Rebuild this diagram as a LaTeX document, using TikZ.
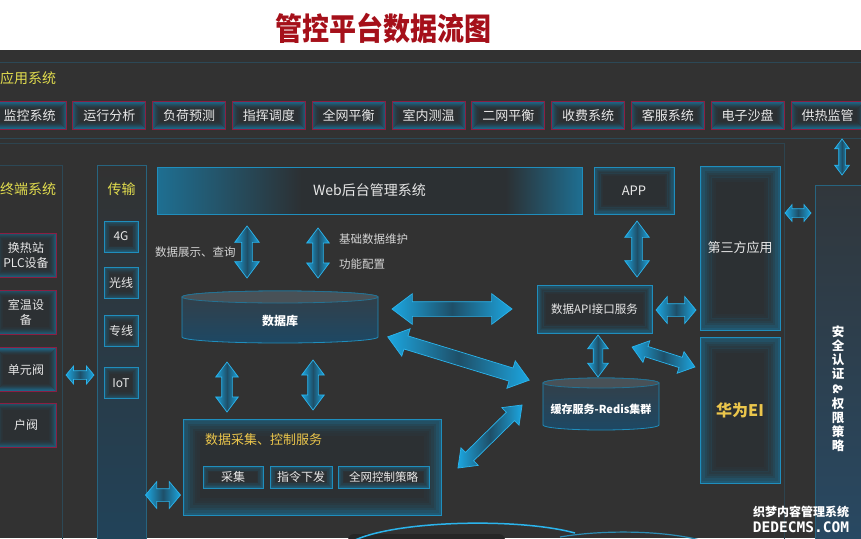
\documentclass[tikz,border=0pt]{standalone}
\usepackage{fontspec}
\usepackage{graphicx}
\setmainfont{Noto Sans CJK SC}
\newfontfamily\wmmono{DejaVu Sans Mono}
\usetikzlibrary{shapes.arrows,calc}

\definecolor{bg}{HTML}{323232}
\definecolor{titlered}{HTML}{A5101A}
\definecolor{ylw}{HTML}{E2DD4E}
\definecolor{gold}{HTML}{EBC64C}
\definecolor{crim}{HTML}{8C1E42}
\definecolor{tealb}{HTML}{1F8EBD}
\definecolor{glowc}{HTML}{1B7096}
\definecolor{boxfill}{HTML}{2C3033}
\definecolor{txt}{HTML}{E8E8E8}
\definecolor{lbl}{HTML}{D4D4D4}
\definecolor{dimline}{HTML}{2C4856}
\definecolor{arbright}{HTML}{1CA6E0}
\definecolor{ardark}{HTML}{1E4F68}
\definecolor{arline}{HTML}{2BB4EC}
\definecolor{webteal}{HTML}{1E6F92}
\definecolor{cyltop}{HTML}{353F47}
\definecolor{cylbot}{HTML}{1D4864}
\definecolor{colbot}{HTML}{21435A}
\definecolor{sectop}{HTML}{31373C}
\definecolor{secbot}{HTML}{284963}

\pgfdeclarehorizontalshading{webshade}{100bp}{color(0bp)=(webteal); color(25bp)=(webteal); color(42bp)=(boxfill); color(66bp)=(boxfill); color(75bp)=(webteal); color(100bp)=(webteal)}

\newcommand\myglow[2]{%
  \foreach \k/\o in {0.5/0.65,1.5/0.5,2.5/0.36,3.5/0.25,4.5/0.16,5.5/0.09,6.5/0.05}{%
    \draw[#1, line width=#2*1.05pt, opacity=\o]
      ([shift={(\k*#2pt,-\k*#2pt)}]path picture bounding box.north west) rectangle
      ([shift={(-\k*#2pt,\k*#2pt)}]path picture bounding box.south east);}}

\tikzset{
  rowbox/.style={draw=crim, line width=0.9pt, fill=boxfill, text=txt,
    font=\fontsize{13}{14}\selectfont, minimum width=73pt, minimum height=28pt,
    inner sep=0pt, path picture={\myglow{glowc}{1}}},
  termbox/.style={rowbox, minimum width=60pt, minimum height=44pt, align=center,
    font=\fontsize{12}{15}\selectfont},
  tbox/.style={draw=tealb, line width=1pt, fill=boxfill, text=txt,
    font=\fontsize{12}{14}\selectfont, minimum width=34pt, minimum height=31pt,
    inner sep=0pt, path picture={\myglow{glowc}{0.9}}},
  bigbox/.style={draw=tealb, line width=1pt, fill=boxfill, text=txt, inner sep=0pt,
    path picture={\myglow{glowc}{#1}}},
  blockarrow/.style={double arrow, draw=arline, line width=0.7pt,
    left color=arbright, right color=arbright, middle color=ardark,
    inner xsep=0pt, double arrow tip angle=74},
  shortarrow/.style={blockarrow, double arrow tip angle=100},
  sectitle/.style={text=ylw, font=\fontsize{14}{15}\selectfont, inner sep=0pt},
  lbltext/.style={text=lbl, font=\fontsize{11.5}{13}\selectfont, inner sep=0pt, anchor=west},
}

\begin{document}
\begin{tikzpicture}[x=1pt,y=-1pt]
\useasboundingbox (0,0) rectangle (861,538);
\fill[white] (0,0) rectangle (861,50);
\fill[bg] (0,50) rectangle (861,538);

\node[text=titlered, font=\fontsize{27}{30}\selectfont\bfseries] (title) at (383,28) {\scalebox{1}[1.15]{管控平台数据流图}};

% frame lines
\draw[dimline, line width=0.8pt] (0,62) -- (861,62);
\draw[dimline, line width=0.8pt] (0,138) -- (861,138);
\draw[dimline!80!bg, line width=0.6pt] (0,143) -- (784,143) -- (784,545);

% application row
\node[sectitle, anchor=west] (apptitle) at (0,78) {应用系统};
\foreach \t [count=\i from 0] in {监控系统,运行分析,负荷预测,指挥调度,全网平衡,室内测温,二网平衡,收费系统,客服系统,电子沙盘,供热监管}{
  \node[rowbox] (r\i) at ({29.5+79.8*\i},115.5) {\t};
}

% terminal panel
\draw[dimline, line width=0.8pt] (-1,165) rectangle (62,545);
\node[sectitle] (termtitle) at (28,189) {终端系统};
\node[termbox] (plc) at (26,255) {换热站\\PLC设备};
\node[termbox] (room) at (26,312) {室温设\\备};
\node[termbox] (unit) at (26,369.5) {单元阀};
\node[termbox] (home) at (26,425) {户阀};

% transmission panel
\node[draw=dimline!60!tealb, line width=0.8pt, top color=bg, bottom color=colbot,
  minimum width=49pt, minimum height=380pt, anchor=north west, inner sep=0pt] (trans) at (97,165) {};
\node[sectitle] (transtitle) at (121.5,189) {传输};
\node[tbox] (g4) at (121,236.5) {4G};
\node[tbox] (fiber) at (121,283) {光线};
\node[tbox] (line) at (121,331) {专线};
\node[tbox] (iot) at (121,383) {IoT};

% security column
\node[draw=dimline!60!tealb, line width=0.8pt, top color=sectop, bottom color=secbot,
  minimum width=48pt, minimum height=360pt, anchor=north west, inner sep=0pt] (sec) at (815,185) {};
\node[text=white, font=\fontsize{12.5}{14}\selectfont\bfseries, align=center, inner sep=0pt] (sectxt) at (838,389)
  {安\\全\\认\\证\\[1pt]\rotatebox[origin=c]{-90}{\&}\\[1pt]权\\限\\策\\略};

% web, app, third party, huawei
\node[draw=tealb, line width=1pt, shade, shading=webshade, minimum width=425pt, minimum height=47pt,
  inner sep=0pt, text=txt, font=\fontsize{14}{16}\selectfont] (web) at (369.5,190.5) {Web后台管理系统};
\node[bigbox=1.3, minimum width=80pt, minimum height=47pt, font=\fontsize{13}{15}\selectfont] (appn) at (634,190.5) {APP};
\node[bigbox=2.3, minimum width=80pt, minimum height=164pt, font=\fontsize{13}{15}\selectfont] (third) at (740,248) {第三方应用};
\node[bigbox=2.3, minimum width=80pt, minimum height=146pt, text=gold, font=\fontsize{16}{18}\selectfont\bfseries] (hw) at (740,410) {华为EI};

% API box
\node[bigbox=1.3, minimum width=115pt, minimum height=48pt, font=\fontsize{11.5}{13}\selectfont] (api) at (594.5,309) {数据API接口服务};

% database cylinder
\path[top color=cyltop, bottom color=cylbot, draw=tealb, line width=0.8pt]
  (182,297) -- (182,337) arc[start angle=180, end angle=360, x radius=98pt, y radius=6pt]
  -- (378,297) arc[start angle=0, end angle=180, x radius=98pt, y radius=6pt] -- cycle;
\draw[tealb!70!bg, line width=0.8pt, fill=cyltop!90!white!95!bg] (280,297) ellipse [x radius=98pt, y radius=6pt];
\node[text=white, font=\fontsize{12}{14}\selectfont\bfseries, inner sep=0pt] (db) at (280,321) {数据库};

% redis cylinder
\path[top color=cyltop, bottom color=cylbot, draw=tealb, line width=0.8pt]
  (543,383) -- (543,425) arc[start angle=180, end angle=360, x radius=58pt, y radius=5pt]
  -- (659,383) arc[start angle=0, end angle=180, x radius=58pt, y radius=5pt] -- cycle;
\draw[tealb!70!bg, line width=0.8pt, fill=cyltop!90!white!95!bg] (601,383) ellipse [x radius=58pt, y radius=5pt];
\node[text=white, font=\fontsize{11}{13}\selectfont\bfseries, inner sep=0pt] (redis) at (601,409) {缓存服务-Redis集群};

% collection box
\node[bigbox=2.4, minimum width=258pt, minimum height=96pt] (coll) at (312,467) {};
\node[text=gold, font=\fontsize{13}{15}\selectfont, anchor=west, inner sep=0pt] (colltitle) at (205,440) {数据采集、控制服务};
\node[tbox, minimum width=60pt, minimum height=22pt] (cj) at (233,477) {采集};
\node[tbox, minimum width=62pt, minimum height=22pt] (zl) at (301,477) {指令下发};
\node[tbox, minimum width=91pt, minimum height=22pt, font=\fontsize{11.5}{13}\selectfont] (qw) at (383.5,477) {全网控制策略};

% labels
\node[lbltext] (l1) at (155,252) {数据展示、查询};
\node[lbltext] (l2) at (339,239) {基础数据维护};
\node[lbltext] (l3) at (339,264) {功能配置};

% block arrows
\node[shortarrow, minimum height=28pt, minimum width=17pt, inner ysep=4pt, double arrow head extend=4.5pt] (a1) at (80,375) {};
\node[shortarrow, minimum height=35pt, minimum width=26pt, inner ysep=6pt, double arrow head extend=7pt] (a2) at (163,495) {};
\node[blockarrow, rotate=90, minimum height=52pt, minimum width=24pt, inner ysep=5pt, double arrow head extend=7pt] (a3) at (247,252) {};
\node[blockarrow, rotate=90, minimum height=50pt, minimum width=22pt, inner ysep=5pt, double arrow head extend=6pt] (a4) at (318,253) {};
\node[blockarrow, rotate=90, minimum height=56pt, minimum width=24pt, inner ysep=5pt, double arrow head extend=7pt] (a5) at (637,249) {};
\node[blockarrow, rotate=90, minimum height=50pt, minimum width=22pt, inner ysep=5pt, double arrow head extend=6pt] (a6) at (227,387) {};
\node[blockarrow, rotate=90, minimum height=50pt, minimum width=22pt, inner ysep=5pt, double arrow head extend=6pt] (a7) at (313,385) {};
\node[blockarrow, minimum height=120pt, minimum width=30pt, inner ysep=7pt, double arrow head extend=8pt] (a8) at (452,309) {};
\node[blockarrow, rotate=-17, minimum height=148pt, minimum width=28pt, inner ysep=6.5pt, double arrow head extend=7.5pt] (a9) at (458.5,358.5) {};
\node[blockarrow, rotate=44.5, minimum height=90pt, minimum width=24pt, inner ysep=5.5pt, double arrow head extend=6.5pt] (a10) at (490,436.5) {};
\node[blockarrow, rotate=90, minimum height=42pt, minimum width=20pt, inner ysep=4.5pt, double arrow head extend=5.5pt] (a11) at (598,356) {};
\node[shortarrow, minimum height=40pt, minimum width=26pt, inner ysep=6pt, double arrow head extend=7pt] (a12) at (676,310) {};
\node[blockarrow, rotate=-17.6, minimum height=66pt, minimum width=22pt, inner ysep=5pt, double arrow head extend=6pt] (a13) at (663.5,357) {};
\node[shortarrow, minimum height=26pt, minimum width=16pt, inner ysep=4pt, double arrow head extend=4pt] (a14) at (798,213) {};
\node[blockarrow, rotate=90, minimum height=36pt, minimum width=14pt, inner ysep=3pt, double arrow head extend=4pt] (a15) at (842,157) {};

% bottom partial cylinder
\fill[black!85, rounded corners=6pt] (348,534) rectangle (505,548);
\draw[arline, line width=1.5pt] (355,540) .. controls (400,520) and (520,518) .. (575,533);
\draw[arline!70!bg, line width=1.2pt] (560,537) .. controls (600,530) and (660,530) .. (700,540);

% watermark
\node[text=white, font=\fontsize{12}{13}\selectfont\bfseries, inner sep=0pt] (wm1) at (801,512) {织梦内容管理系统};
\node[text=white, font=\wmmono\bfseries\fontsize{14.5}{15}\selectfont, inner sep=0pt] (wm2) at (801,527) {DEDECMS.COM};
\end{tikzpicture}
\end{document}
